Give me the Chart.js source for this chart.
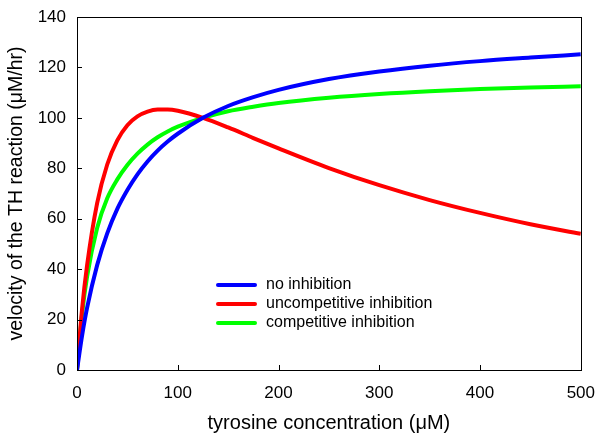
<!DOCTYPE html>
<html>
<head>
<meta charset="utf-8">
<script src="https://cdn.jsdelivr.net/npm/chart.js@4/dist/chart.umd.min.js"></script>
<style>
  html, body { margin: 0; padding: 0; background: #fff; }
  #wrap { width: 600px; height: 439px; }
</style>
</head>
<body>
<div id="wrap"><canvas id="thChart"></canvas></div>
<script>
// tyrosine concentration (uM)
const tyrosine = [0, 5, 10, 20, 30, 40, 50, 60, 70, 80, 90, 100, 125, 150, 175, 200, 250, 300, 350, 400, 450, 500];
// velocity (uM/hr)
const noInhibition = [0, 13.5, 24.6, 41.6, 54.2, 63.9, 71.4, 77.6, 82.7, 87.0, 90.6, 93.7, 100.0, 104.7, 108.2, 111.1, 115.4, 118.4, 120.7, 122.5, 123.9, 125.2];
const uncompetitive = [0, 24.0, 41.5, 66.2, 81.5, 91.1, 97.1, 100.6, 102.5, 103.3, 103.3, 102.8, 100.0, 96.2, 92.0, 87.9, 80.1, 73.3, 67.4, 62.3, 57.8, 54.0];
const competitive = [0, 22.0, 37.0, 56.3, 68.1, 75.6, 81.3, 85.8, 89.4, 92.3, 94.6, 96.5, 100.0, 102.6, 104.4, 105.9, 108.0, 109.5, 110.6, 111.4, 112.0, 112.5];
const xTicks = [0, 100, 200, 300, 400, 500];
const yTicks = [0, 20, 40, 60, 80, 100, 120, 140];

const seriesNames = ['no inhibition', 'uncompetitive inhibition', 'competitive inhibition'];
const seriesColors = ['#0000ff', '#ff0000', '#00ff00'];
const fontFamily = '"Liberation Sans", Arial, sans-serif';

function toPoints(ys) {
    return tyrosine.map((x, i) => ({ x: x, y: ys[i] }));
}

// frame, inward ticks and the legend inside the plot
const framePlugin = {
    id: 'frame',
    afterDraw(chart) {
        const ctx = chart.ctx;
        const a = chart.chartArea;
        const xs = chart.scales.x, ys = chart.scales.y;
        ctx.save();
        ctx.strokeStyle = '#000';
        ctx.lineWidth = 1;
        ctx.strokeRect(Math.round(a.left) + 0.5, Math.round(a.top) + 0.5,
            Math.round(a.right - a.left), Math.round(a.bottom - a.top));
        ctx.beginPath();
        xTicks.forEach(v => {
            const px = Math.round(xs.getPixelForValue(v)) + 0.5;
            ctx.moveTo(px, a.bottom);
            ctx.lineTo(px, a.bottom - 5);
        });
        yTicks.forEach(v => {
            const py = Math.round(ys.getPixelForValue(v)) + 0.5;
            ctx.moveTo(a.left, py);
            ctx.lineTo(a.left + 5, py);
        });
        ctx.stroke();

        // legend
        ctx.font = '16px ' + fontFamily;
        ctx.textBaseline = 'middle';
        ctx.fillStyle = '#000';
        let ly = 285;
        seriesNames.forEach((name, i) => {
            ctx.strokeStyle = seriesColors[i];
            ctx.lineWidth = 4;
            ctx.lineCap = 'round';
            ctx.beginPath();
            ctx.moveTo(218, ly);
            ctx.lineTo(255, ly);
            ctx.stroke();
            ctx.fillText(name, 266, ly);
            ly += 19;
        });
        ctx.restore();
    }
};

new Chart(document.getElementById('thChart'), {
    type: 'line',
    data: {
        datasets: [
            { label: seriesNames[0], data: toPoints(noInhibition), borderColor: seriesColors[0] },
            { label: seriesNames[1], data: toPoints(uncompetitive), borderColor: seriesColors[1] },
            { label: seriesNames[2], data: toPoints(competitive), borderColor: seriesColors[2] }
        ]
    },
    options: {
        responsive: true,
        maintainAspectRatio: false,
        animation: false,
        layout: { padding: { top: 17, right: 17, left: 0, bottom: 0 } },
        elements: {
            point: { radius: 0 },
            line: { borderWidth: 4, cubicInterpolationMode: 'monotone', fill: false }
        },
        scales: {
            x: {
                type: 'linear',
                min: 0,
                max: 500,
                grid: { display: false },
                border: { display: false },
                afterBuildTicks: s => { s.ticks = xTicks.map(v => ({ value: v })); },
                afterFit: s => { s.height = 69; },
                ticks: {
                    color: '#000',
                    padding: 5,
                    font: { family: fontFamily, size: 17 }
                },
                title: {
                    display: true,
                    text: 'tyrosine concentration (\u03bcM)',
                    color: '#000',
                    padding: { top: 8 },
                    font: { family: fontFamily, size: 20 }
                }
            },
            y: {
                min: 0,
                max: 140,
                grid: { display: false },
                border: { display: false },
                afterBuildTicks: s => { s.ticks = yTicks.map(v => ({ value: v })); },
                afterFit: s => { s.width = 77; },
                ticks: {
                    color: '#000',
                    padding: 3,
                    font: { family: fontFamily, size: 17 }
                },
                title: {
                    display: true,
                    text: 'velocity of the TH reaction (\u03bcM/hr)',
                    color: '#000',
                    padding: { top: 5, bottom: 0 },
                    font: { family: fontFamily, size: 19.5 }
                }
            }
        },
        plugins: {
            legend: { display: false },
            tooltip: { enabled: false }
        }
    },
    plugins: [framePlugin]
});
</script>
</body>
</html>
